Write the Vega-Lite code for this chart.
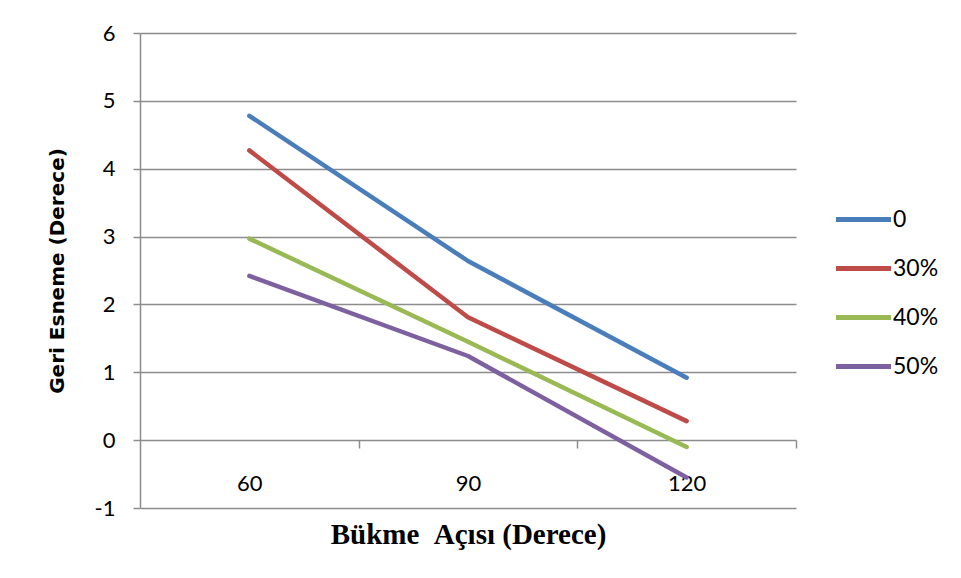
{
  "$schema": "https://vega.github.io/schema/vega-lite/v6.json",
  "width": 656,
  "height": 475,
  "autosize": {"type": "none"},
  "padding": {"left": 140, "top": 33, "right": 165, "bottom": 70},
  "background": "white",
  "config": {"view": {"stroke": null}, "font": "Lato"},
  "data": {
    "values": [
      {"angle": 60, "series": "0", "value": 4.78},
      {"angle": 90, "series": "0", "value": 2.64},
      {"angle": 120, "series": "0", "value": 0.92},
      {"angle": 60, "series": "30%", "value": 4.27},
      {"angle": 90, "series": "30%", "value": 1.81},
      {"angle": 120, "series": "30%", "value": 0.28},
      {"angle": 60, "series": "40%", "value": 2.97},
      {"angle": 90, "series": "40%", "value": 1.45},
      {"angle": 120, "series": "40%", "value": -0.1},
      {"angle": 60, "series": "50%", "value": 2.42},
      {"angle": 90, "series": "50%", "value": 1.24},
      {"angle": 120, "series": "50%", "value": -0.55}
    ]
  },
  "mark": {"type": "line", "strokeWidth": 4.5, "strokeCap": "round", "strokeJoin": "round"},
  "encoding": {
    "x": {
      "field": "angle",
      "type": "quantitative",
      "scale": {"domain": [45, 135], "nice": false, "zero": false},
      "axis": {
        "values": [60, 75, 90, 105, 120, 135],
        "orient": "bottom",
        "offset": -68,
        "domain": false,
        "grid": false,
        "tickSize": 8,
        "tickColor": "#8c8c8c",
        "tickWidth": 1.5,
        "tickOpacity": {"condition": {"test": "datum.value % 30 == 0", "value": 0}, "value": 1},
        "labelExpr": "datum.value % 30 == 0 ? datum.label : ''",
        "labelFont": "Lato",
        "labelFontSize": 22,
        "labelColor": "#000000",
        "labelPadding": 25,
        "labelFlush": false,
        "title": "Bükme \u00a0Açısı (Derece)",
        "titleFont": "Liberation Serif",
        "titleFontSize": 29,
        "titleFontWeight": "bold",
        "titleColor": "#000000",
        "titlePadding": 26
      }
    },
    "y": {
      "field": "value",
      "type": "quantitative",
      "scale": {"domain": [-1, 6], "nice": false, "zero": false},
      "axis": {
        "values": [-1, 0, 1, 2, 3, 4, 5, 6],
        "labelExpr": "'' + datum.value",
        "grid": true,
        "gridColor": "#8c8c8c",
        "gridWidth": 1.5,
        "domainColor": "#8c8c8c",
        "domainWidth": 1.5,
        "tickColor": "#8c8c8c",
        "tickWidth": 1.5,
        "tickSize": 7,
        "labelFont": "Lato",
        "labelFontSize": 22,
        "labelPadding": 18,
        "labelColor": "#000000",
        "title": "Geri Esneme (Derece)",
        "titleFont": "DejaVu Sans",
        "titleFontSize": 20,
        "titleFontWeight": "bold",
        "titleColor": "#000000",
        "titlePadding": 27
      }
    },
    "color": {
      "field": "series",
      "type": "nominal",
      "scale": {"domain": ["0", "30%", "40%", "50%"], "range": ["#4A7EBB", "#BE4B48", "#98B954", "#7D60A0"]},
      "legend": {
        "orient": "none",
        "legendX": 712,
        "legendY": 175,
        "title": null,
        "symbolType": "M-5,0H5",
        "symbolSize": 121,
        "symbolStrokeWidth": 5,
        "labelFont": "Lato",
        "labelFontSize": 23,
        "labelColor": "#000000",
        "labelOffset": 18,
        "rowPadding": 25,
        "padding": 0
      }
    }
  }
}
